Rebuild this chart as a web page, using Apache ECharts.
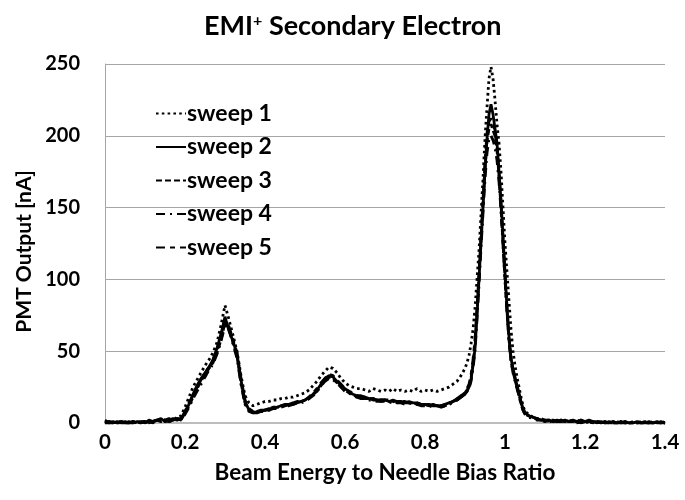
<!DOCTYPE html>
<html>
<head>
<meta charset="utf-8">
<script src="https://cdn.jsdelivr.net/npm/echarts@6/dist/echarts.min.js"></script>
<style>
  html, body { margin: 0; padding: 0; background: #ffffff; }
  #chart { width: 685px; height: 500px; }
</style>
</head>
<body>
<div id="chart"></div>
<script>
// Beam energy / needle bias ratio sampled along the sweep (finer around the main peak)
const ratio = [
  0.00,0.01,0.02,0.03,0.04,0.05,0.06,0.07,0.08,0.09,
  0.10,0.11,0.12,0.13,0.14,0.15,0.16,0.17,0.18,0.19,
  0.20,0.21,0.22,0.23,0.24,0.25,0.26,0.27,0.28,0.29,
  0.30,0.31,0.32,0.33,0.34,0.35,0.36,0.37,0.38,0.39,
  0.40,0.41,0.42,0.43,0.44,0.45,0.46,0.47,0.48,0.49,
  0.50,0.51,0.52,0.53,0.54,0.55,0.56,0.57,0.58,0.59,
  0.60,0.61,0.62,0.63,0.64,0.65,0.66,0.67,0.68,0.69,
  0.70,0.71,0.72,0.73,0.74,0.75,0.76,0.77,0.78,0.79,
  0.80,0.81,0.82,0.83,0.84,0.85,0.86,0.87,0.88,0.89,
  0.900,0.905,0.910,0.915,0.920,0.925,0.930,0.935,0.940,0.945,
  0.950,0.955,0.960,0.965,0.970,0.975,0.980,0.985,0.990,0.995,
  1.000,1.005,1.010,1.015,1.020,1.025,1.030,1.035,1.040,1.045,1.050,
  1.06,1.07,1.08,1.09,1.10,1.11,1.12,1.13,1.14,1.15,
  1.16,1.17,1.18,1.19,1.20,1.21,1.22,1.23,1.24,1.25,
  1.26,1.27,1.28,1.29,1.30,1.31,1.32,1.33,1.34,1.35,
  1.36,1.37,1.38,1.39,1.40
];

// PMT output [nA] for each sweep
const sweep1 = [
  2,0,1,0,1,0,0,1,0,1,
  1,0,2,1,3,2,1,2,4,5,
  11,18,25,30,35,40,44,49,56,68,
  82,72,61,50,33,19,14,12,13,14,
  15,15,16,16,17,17,18,18,19,20,
  21,23,26,29,33,36,39,38,35,31,
  28,26,25,24,24,23,22,24,23,22,
  23,22,24,22,23,22,23,22,24,22,
  23,22,23,22,23,24,25,27,29,33,
  38,42,47,55,65,80,100,120,145,170,
  198,220,240,248,240,225,208,195,175,150,
  125,105,85,65,50,40,32,25,18,12,8,
  6,4,3,3,2,2,1,2,1,1,
  2,1,1,2,1,1,0,1,1,0,
  1,0,0,1,0,0,1,0,0,1,
  0,0,1,0,0
];
const sweep2 = [
  1,1,0,1,0,0,1,0,1,1,
  0,2,1,2,3,1,2,3,2,3,
  8,13,20,26,31,35,39,44,52,62,
  74,64,57,48,30,15,9,8,7,8,
  9,10,10,11,12,12,13,14,14,15,
  16,18,20,23,27,31,33,32,29,26,
  24,22,20,19,18,18,17,17,16,16,
  16,15,16,15,15,14,15,14,14,13,
  13,12,13,12,12,13,14,15,16,18,
  20,22,25,30,40,52,75,100,125,150,
  175,198,215,222,215,205,195,175,155,130,
  105,80,60,45,38,32,26,21,15,10,7,
  5,4,3,2,2,2,1,2,1,2,
  1,2,1,2,1,2,1,1,0,1,
  0,1,0,0,1,0,0,1,0,0,
  1,0,1,0,0
];
const sweep3 = [
  0,1,1,0,0,1,0,1,0,0,
  1,1,0,2,1,2,3,2,3,2,
  7,12,18,24,29,34,38,42,49,58,
  70,66,56,47,28,14,9,7,8,8,
  9,9,10,11,11,12,13,13,14,15,
  16,17,20,22,26,30,32,31,28,25,
  23,21,20,18,18,17,17,16,16,15,
  16,15,15,14,15,14,14,14,13,13,
  13,12,12,12,11,12,13,15,17,19,
  21,23,26,31,41,55,78,102,128,152,
  178,196,205,208,204,200,190,172,150,125,
  100,78,58,44,36,30,25,19,14,9,6,
  5,3,3,2,1,2,2,1,2,1,
  1,1,2,1,0,1,1,0,1,0,
  0,1,0,1,0,0,0,1,0,0,
  0,1,0,0,0
];
const sweep4 = [
  1,0,0,1,1,0,0,0,1,0,
  0,1,1,1,2,2,1,2,3,2,
  6,11,17,22,27,32,37,41,48,57,
  68,65,55,45,27,13,8,7,7,8,
  8,9,10,10,11,12,12,13,14,14,
  15,17,19,22,26,29,31,30,28,25,
  22,21,19,18,17,17,16,16,15,15,
  15,14,15,14,14,13,14,13,13,12,
  12,12,11,12,11,12,13,14,16,18,
  20,22,24,29,38,50,72,96,122,146,
  170,188,198,200,197,192,183,168,148,124,
  100,77,57,43,35,29,24,19,13,9,6,
  4,3,2,2,2,1,1,1,2,1,
  1,1,1,0,1,1,0,1,0,1,
  0,0,1,0,0,1,0,0,0,1,
  0,0,0,1,0
];
const sweep5 = [
  0,0,1,0,1,1,0,1,0,1,
  1,0,1,2,2,1,2,2,3,3,
  8,14,19,25,30,35,39,44,51,61,
  71,67,58,49,31,16,10,8,8,9,
  9,10,11,11,12,13,13,14,15,15,
  16,18,21,24,28,31,34,33,30,27,
  24,22,21,19,19,18,17,17,17,16,
  16,16,15,15,15,15,14,14,14,13,
  13,13,12,13,12,13,14,15,17,19,
  21,24,27,33,44,58,80,104,130,155,
  182,202,210,212,210,202,192,174,153,128,
  103,80,60,45,37,31,25,20,14,10,7,
  5,4,3,2,2,1,2,1,1,2,
  1,1,0,1,1,0,1,0,1,0,
  1,0,0,0,1,0,0,0,1,0,
  0,0,0,0,1
];

const sweepNames = ['sweep 1', 'sweep 2', 'sweep 3', 'sweep 4', 'sweep 5'];
const sweepValues = [sweep1, sweep2, sweep3, sweep4, sweep5];
// dotted, solid, short dash, long dash-dot, long dash-short dash
const sweepDash = [[2.6, 3.2], 'solid', [6, 3], [9, 5, 2, 5], [9, 5, 5, 5]];

const FONT = 'Lato';

const chart = echarts.init(document.getElementById('chart'), null, { renderer: 'canvas' });

const series = sweepNames.map((name, i) => ({
  name: name,
  type: 'line',
  symbol: 'none',
  showSymbol: false,
  animation: false,
  z: 10 - i,
  lineStyle: { color: '#000000', width: 2.8, type: sweepDash[i], cap: 'butt' },
  itemStyle: { color: '#000000' },
  data: ratio.map((x, k) => [x, sweepValues[i][k]])
}));

chart.setOption({
  animation: false,
  backgroundColor: '#ffffff',
  title: {
    text: 'EMI{sup|+} Secondary Electron',
    left: 199,
    top: 8,
    textStyle: {
      fontFamily: FONT,
      fontWeight: 'bold',
      fontSize: 27,
      color: '#000000',
      rich: {
        sup: { fontFamily: FONT, fontWeight: 'bold', fontSize: 16, verticalAlign: 'top', color: '#000000' }
      }
    }
  },
  legend: {
    orient: 'vertical',
    left: 150,
    top: 97,
    itemWidth: 30,
    itemHeight: 14,
    itemGap: 10.5,
    data: sweepNames,
    itemStyle: { opacity: 0 },
    textStyle: {
      fontFamily: FONT, fontWeight: 'bold', fontSize: 23, color: '#000000',
      lineHeight: 23, padding: [0, 0, 0, -4]
    }
  },
  grid: { left: 105, right: 20, top: 64, bottom: 77, containLabel: false },
  xAxis: {
    type: 'value',
    min: 0,
    max: 1.4,
    interval: 0.2,
    name: 'Beam Energy to Needle Bias Ratio',
    nameLocation: 'middle',
    nameGap: 38,
    nameTextStyle: { fontFamily: FONT, fontWeight: 'bold', fontSize: 22.5, color: '#000000' },
    axisLine: { show: true, lineStyle: { color: '#bdbdbd', width: 2 } },
    axisTick: { show: false },
    splitLine: { show: false },
    axisLabel: { fontFamily: FONT, fontWeight: 'bold', fontSize: 20.5, color: '#000000', margin: 9 }
  },
  yAxis: {
    type: 'value',
    min: 0,
    max: 250,
    interval: 50,
    name: 'PMT Output [nA]',
    nameLocation: 'middle',
    nameRotate: 90,
    nameGap: 70,
    nameTextStyle: { fontFamily: FONT, fontWeight: 'bold', fontSize: 21, color: '#000000', padding: [0, 16, 0, 0] },
    axisLine: { show: true, lineStyle: { color: '#a6a6a6', width: 1 } },
    axisTick: { show: false },
    splitLine: { show: true, lineStyle: { color: '#a6a6a6', width: 1 } },
    axisLabel: { fontFamily: FONT, fontWeight: 'bold', fontSize: 20, color: '#000000', margin: 25 }
  },
  series: series
});
</script>
</body>
</html>
